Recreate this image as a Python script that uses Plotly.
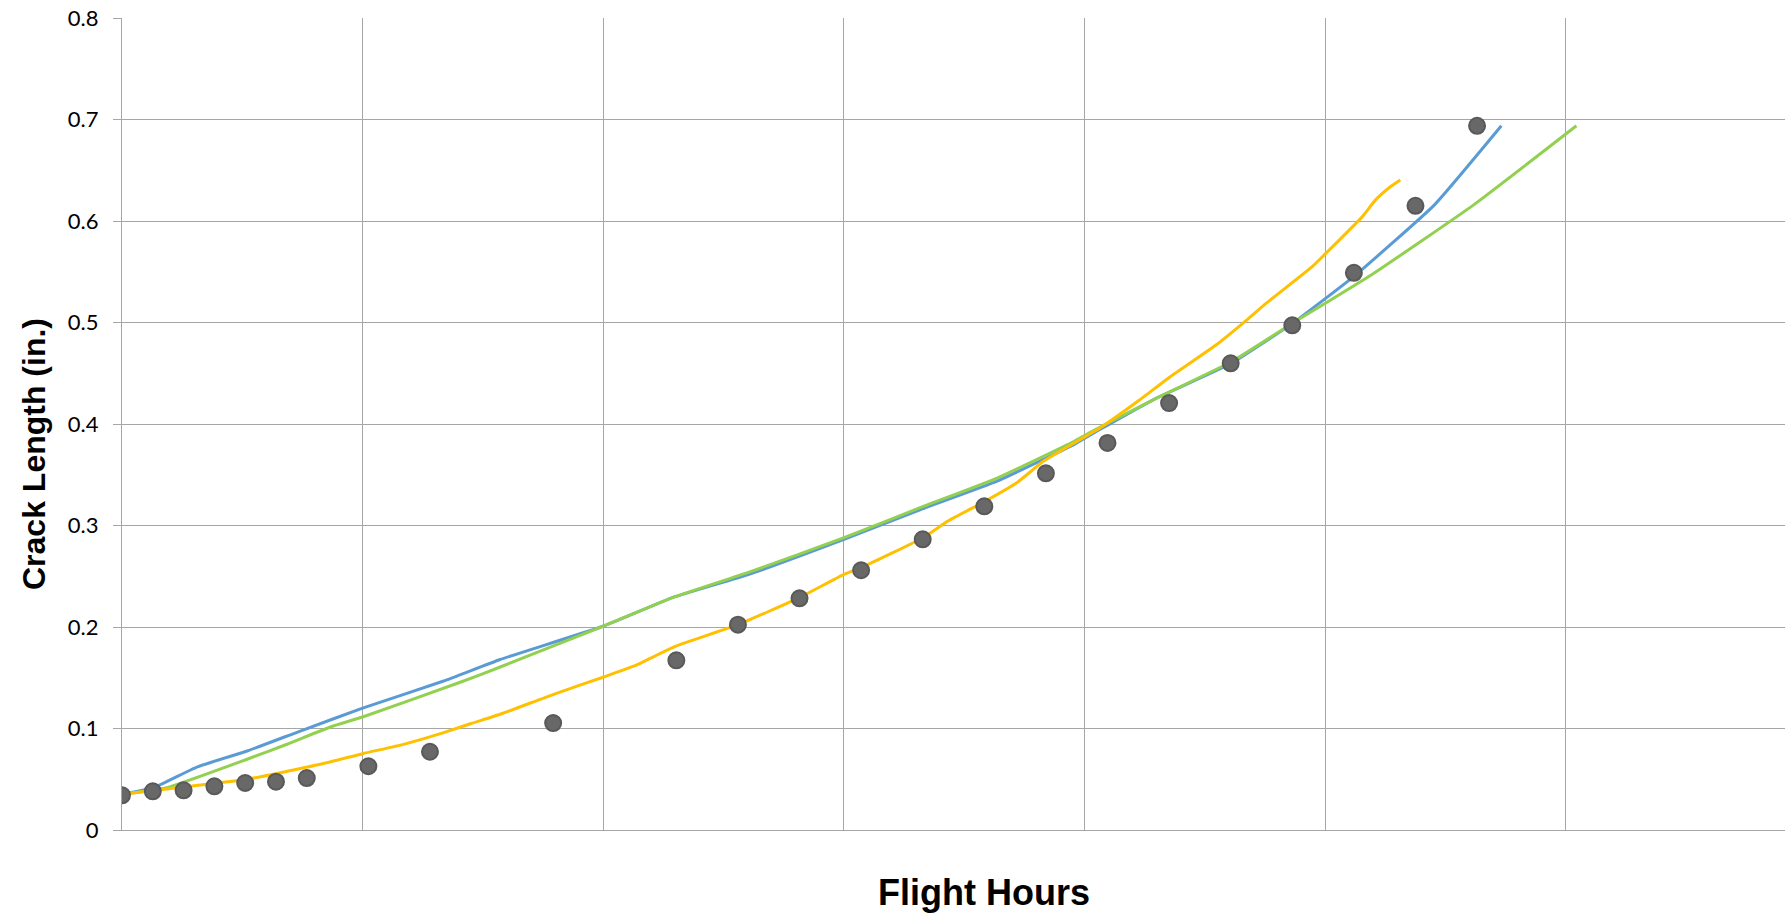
import plotly.graph_objects as go

# Test data (crack length measurements)
test_hours = [0, 128, 256, 384, 512, 640, 768, 1024, 1280, 1792, 2304, 2560, 2816,
              3072, 3328, 3584, 3840, 4096, 4352, 4608, 4864, 5120, 5376, 5632]
test_crack = [0.0342, 0.0381, 0.0391, 0.0430, 0.0463, 0.0476, 0.0512, 0.0628, 0.0771,
              0.1054, 0.1672, 0.2023, 0.2283, 0.2559, 0.2864, 0.3189, 0.3514, 0.3813,
              0.4206, 0.4598, 0.4972, 0.5490, 0.6150, 0.6938]

# Blue prediction
blue_hours = [0, 131, 311, 520, 741, 1000, 1337, 1572, 2002, 2288, 2606, 3001, 3322,
              3640, 3958, 4066, 4284, 4611, 4865, 5119, 5455, 5733]
blue_crack = [0.0352, 0.0417, 0.062, 0.0778, 0.0975, 0.120, 0.1468, 0.168, 0.201, 0.229,
              0.2519, 0.2864, 0.316, 0.344, 0.380, 0.3948, 0.4236, 0.4598, 0.4992, 0.5452,
              0.6159, 0.6938]

# Green prediction
green_hours = [0, 187, 520, 686, 866, 1000, 1420, 1572, 2002, 2288, 2606, 3001, 3322,
               3640, 3958, 4066, 4284, 4611, 4865, 5192, 5618, 6045]
green_crack = [0.0352, 0.0417, 0.0697, 0.0845, 0.1015, 0.1113, 0.1468, 0.1606, 0.201,
               0.229, 0.254, 0.288, 0.318, 0.347, 0.383, 0.397, 0.4236, 0.4613, 0.4992,
               0.5468, 0.6159, 0.6938]

# Yellow prediction
yellow_hours = [0, 256, 520, 824, 1000, 1170, 1337, 1448, 1572, 1794, 2002, 2129, 2304,
                2560, 2816, 3001, 3071, 3330, 3433, 3584, 3719, 3831, 4066, 4229, 4357,
                4547, 4683, 4756, 4947, 5001, 5155, 5210, 5273, 5313]
yellow_crack = [0.0352, 0.0424, 0.050, 0.0647, 0.0752, 0.0844, 0.0959, 0.1047, 0.114,
                0.1337, 0.1507, 0.1616, 0.1813, 0.2023, 0.229, 0.2519, 0.2584, 0.288,
                0.3044, 0.3234, 0.3421, 0.3635, 0.3963, 0.4236, 0.4466, 0.4778, 0.5041,
                0.519, 0.555, 0.5676, 0.6043, 0.6208, 0.634, 0.6405]

y_ticks = [0, 0.1, 0.2, 0.3, 0.4, 0.5, 0.6, 0.7, 0.8]
y_tick_labels = ["0", "0.1", "0.2", "0.3", "0.4", "0.5", "0.6", "0.7", "0.8"]

GRID = "#A6A6A6"

fig = go.Figure()
fig.add_trace(go.Scatter(x=blue_hours, y=blue_crack, mode="lines",
                         line=dict(color="#5B9BD5", width=3, shape="spline", smoothing=0.4),
                         showlegend=False))
fig.add_trace(go.Scatter(x=green_hours, y=green_crack, mode="lines",
                         line=dict(color="#92D050", width=3, shape="spline", smoothing=0.4),
                         showlegend=False))
fig.add_trace(go.Scatter(x=yellow_hours, y=yellow_crack, mode="lines",
                         line=dict(color="#FFC000", width=3, shape="spline", smoothing=0.4),
                         showlegend=False))
fig.add_trace(go.Scatter(x=test_hours, y=test_crack, mode="markers",
                         marker=dict(color="#686868", size=16,
                                     line=dict(color="#595959", width=2)),
                         showlegend=False))

W, H = 1785, 915
ML, MR, MT, MB = 122, 0, 18, 85
plot_w = W - ML - MR
plot_h = H - MT - MB
px_per_1000 = 240.6
x_max = plot_w / px_per_1000 * 1000

fig.update_layout(
    width=W, height=H,
    margin=dict(l=ML, r=MR, t=MT, b=MB, pad=0),
    paper_bgcolor="white", plot_bgcolor="white",
    font=dict(family="Lato, Open Sans, sans-serif", color="#000000"),
    xaxis=dict(range=[0, x_max], dtick=1000, tick0=0, showticklabels=False,
               showgrid=True, gridcolor=GRID, gridwidth=1.3, zeroline=False,
               showline=True, linecolor=GRID, linewidth=1.3, ticks=""),
    yaxis=dict(range=[0, 0.8], tickvals=y_ticks, ticktext=y_tick_labels,
               showgrid=True, gridcolor=GRID, gridwidth=1.3, zeroline=False,
               showline=True, linecolor=GRID, linewidth=1.3,
               ticks="outside", ticklen=8, tickcolor=GRID, tickwidth=1.3,
               ticklabelstandoff=10, ticklabeloverflow="allow",
               tickfont=dict(family="Lato, Open Sans, sans-serif", size=22, color="#000000")),
)

# title positions in window pixels
xt_x, xt_y = 984, 892
yt_x, yt_y = 34, 454
fig.add_annotation(text="<b>Flight Hours</b>", xref="paper", yref="paper",
                   x=(xt_x - ML) / plot_w, y=1 - (xt_y - MT) / plot_h,
                   xanchor="center", yanchor="middle", showarrow=False,
                   font=dict(family="Liberation Sans, Arial, sans-serif", size=36, color="#000000"))
fig.add_annotation(text="<b>Crack Length (in.)</b>", xref="paper", yref="paper",
                   x=(yt_x - ML) / plot_w, y=1 - (yt_y - MT) / plot_h,
                   xanchor="center", yanchor="middle", showarrow=False, textangle=-90,
                   font=dict(family="Liberation Sans, Arial, sans-serif", size=32, color="#000000"))

# remove the default page margin so the chart fills the window exactly
fig.write_html("out.html", config={"displayModeBar": False},
               post_script="document.body.style.margin='0';document.body.style.overflow='hidden';")
